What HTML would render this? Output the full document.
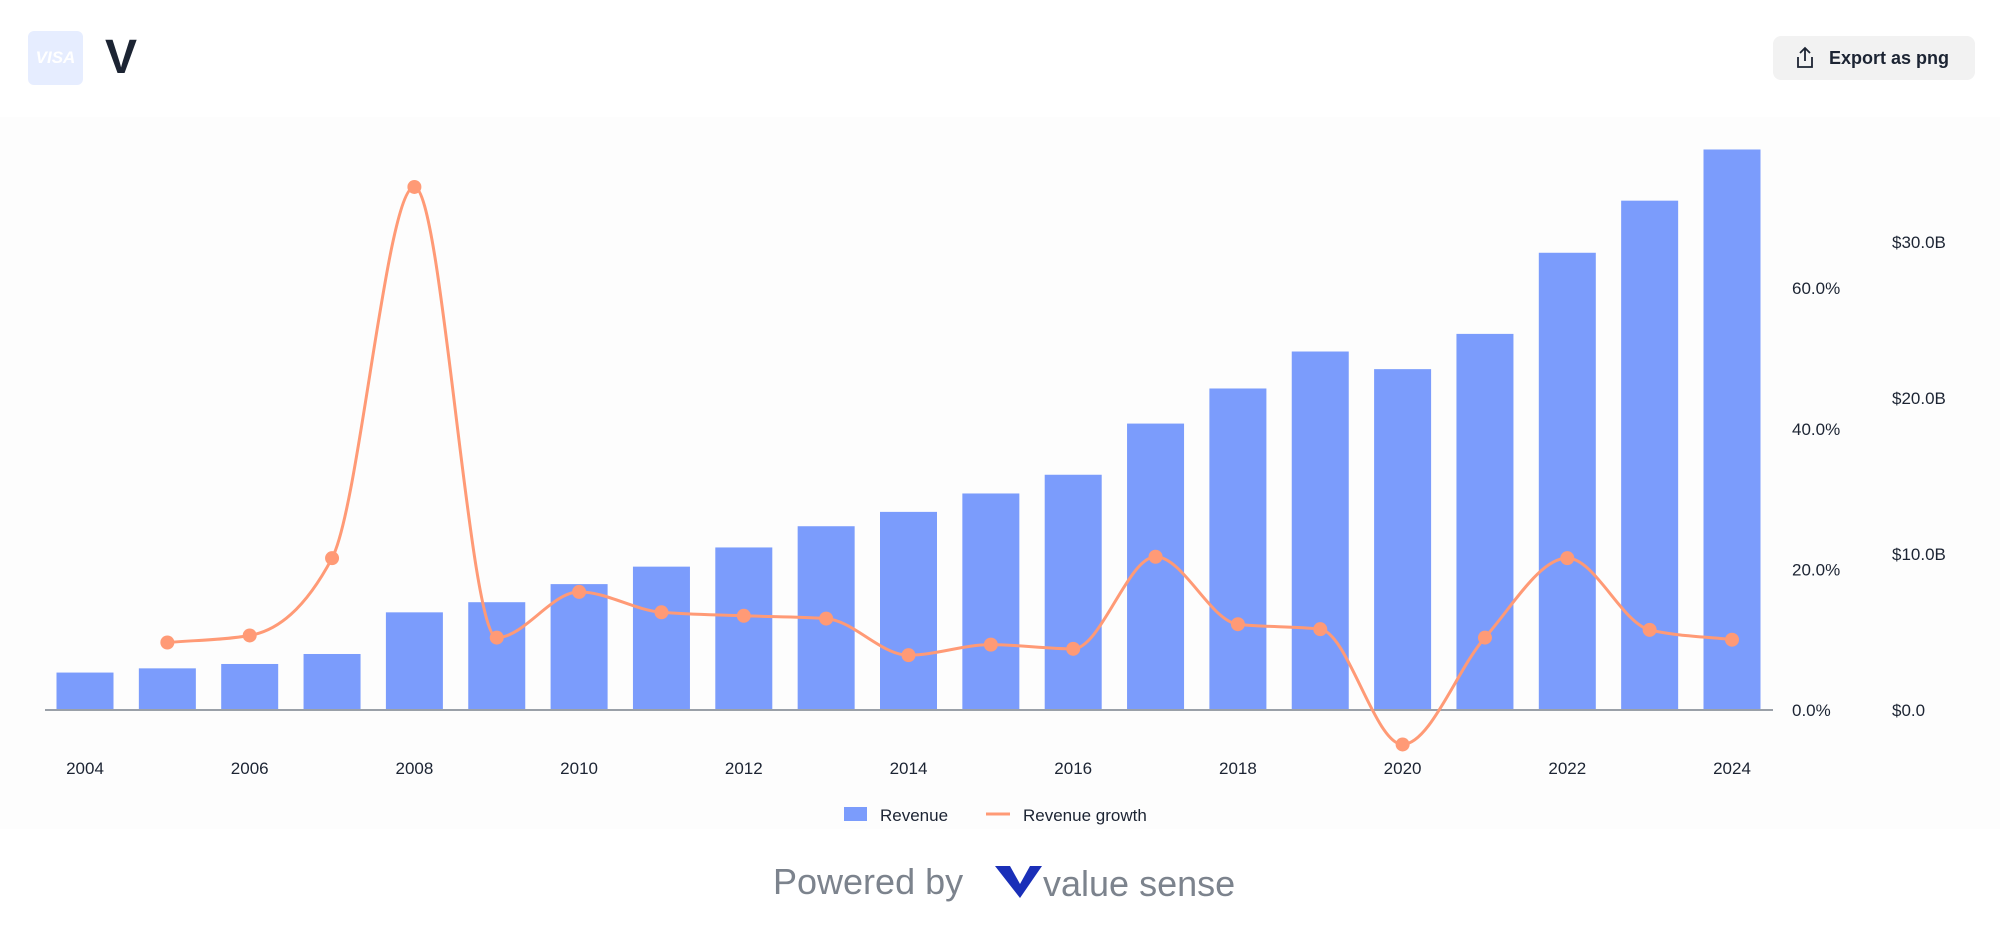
<!DOCTYPE html>
<html><head><meta charset="utf-8">
<style>
html,body{margin:0;padding:0;width:2000px;height:945px;background:#fff;overflow:hidden;font-family:"Liberation Sans",sans-serif;}
#chart-bg{position:absolute;left:0;top:117px;width:2000px;height:712px;background:#fdfdfd;}
#logo{position:absolute;left:28px;top:31px;width:55px;height:54px;background:#e6edff;border-radius:6px;color:#fff;font-weight:bold;font-style:italic;font-size:17px;line-height:54px;text-align:center;}
#ticker{position:absolute;left:105px;top:30px;font-size:48px;font-weight:bold;color:#1c2433;}
#export{position:absolute;left:1773px;top:36px;width:202px;height:44px;background:#f2f2f2;border-radius:8px;font-size:18px;font-weight:bold;color:#1c2433;line-height:44px;}
svg{position:absolute;left:0;top:0;}
</style></head><body>
<div id="chart-bg"></div>
<div id="logo">VISA</div>
<div id="ticker">V</div>
<div id="export">
<svg width="22" height="24" style="left:21px;top:10px" viewBox="0 0 22 24"><path d="M11 2 V15 M6 7 L11 2 L16 7 M4 11 V21 H18 V11" fill="none" stroke="#1c2433" stroke-width="1.8"/></svg>
<span style="position:absolute;left:56px">Export as png</span></div>
<svg id="chart" width="2000" height="945"></svg>
<script>
const years=[2004,2005,2006,2007,2008,2009,2010,2011,2012,2013,2014,2015,2016,2017,2018,2019,2020,2021,2022,2023,2024];
const revenue=[2.40,2.67,2.95,3.59,6.26,6.91,8.07,9.19,10.42,11.78,12.70,13.88,15.08,18.36,20.61,22.98,21.85,24.11,29.31,32.65,35.93];
const growth=[null,9.6,10.6,21.6,74.4,10.3,16.8,13.9,13.4,13.0,7.8,9.3,8.7,21.8,12.2,11.5,-4.9,10.3,21.6,11.4,10.0];
const revTicks=[0,10,20,30];
const revTickLabels=["$0.0","$10.0B","$20.0B","$30.0B"];
const pctTicks=[0,20,40,60];
const pctTickLabels=["0.0%","20.0%","40.0%","60.0%"];
const xTickYears=[2004,2006,2008,2010,2012,2014,2016,2018,2020,2022,2024];

const NS="http://www.w3.org/2000/svg";
const svg=document.getElementById('chart');
const base=710;
const xPos=i=>85+i*82.35;
const yRev=v=>base-v*15.6;
const yPct=v=>base-v*7.03;
function mk(tag,attrs,parent){const e=document.createElementNS(NS,tag);for(const k in attrs)e.setAttribute(k,attrs[k]);(parent||svg).appendChild(e);return e;}

revenue.forEach((v,i)=>{
  const r=mk('rect',{x:xPos(i)-28.5,y:yRev(v),width:57,height:base-yRev(v),fill:'#7b9cfc'});
  
  
});
const ax=mk('line',{x1:45,x2:1773,y1:base,y2:base,stroke:'#9aa0a8','stroke-width':2});



xTickYears.forEach(y=>{
  const i=years.indexOf(y);
  const t=mk('text',{x:xPos(i),y:774,'text-anchor':'middle','font-size':17,fill:'#1c2433'});
  t.textContent=y;
  
  
});
pctTicks.forEach((v,i)=>{
  const t=mk('text',{x:1792,y:yPct(v)+6,'font-size':17,fill:'#1c2433'});
  t.textContent=pctTickLabels[i];
  
  
});
revTicks.forEach((v,i)=>{
  const t=mk('text',{x:1892,y:yRev(v)+6,'font-size':17,fill:'#1c2433'});
  t.textContent=revTickLabels[i];
  
  
});

// monotone-x cubic (d3 style)
const pts=[];
growth.forEach((g,i)=>{if(g!==null)pts.push([xPos(i),yPct(g)]);});
const n=pts.length;
const sl=[],m=[];
for(let i=0;i<n-1;i++)sl.push((pts[i+1][1]-pts[i][1])/(pts[i+1][0]-pts[i][0]));
for(let i=0;i<n;i++){
  if(i===0||i===n-1){m.push(i===0?sl[0]:sl[n-2]);continue;}
  const s0=sl[i-1],s1=sl[i];
  if(s0*s1<=0){m.push(0);continue;}
  const h0=pts[i][0]-pts[i-1][0],h1=pts[i+1][0]-pts[i][0];
  const p=(s0*h1+s1*h0)/(h0+h1);
  m.push((Math.sign(s0)+Math.sign(s1))*Math.min(Math.abs(s0),Math.abs(s1),0.5*Math.abs(p)));
}
let d='M'+pts[0][0]+','+pts[0][1];
for(let i=0;i<n-1;i++){
  const h=(pts[i+1][0]-pts[i][0])/3;
  d+=` C${pts[i][0]+h},${pts[i][1]+m[i]*h} ${pts[i+1][0]-h},${pts[i+1][1]-m[i+1]*h} ${pts[i+1][0]},${pts[i+1][1]}`;
}
const line=mk('path',{d:d,fill:'none',stroke:'#ff9a76','stroke-width':3});


pts.forEach(p=>{
  const c=mk('circle',{cx:p[0],cy:p[1],r:7,fill:'#ff9a76'});
  
  
});

const lg=mk('g',{});


const l1=mk('rect',{x:844,y:807,width:23,height:14,fill:'#7b9cfc'},lg);


const t1=mk('text',{x:880,y:821,'font-size':17,fill:'#1c2433'},lg);t1.textContent='Revenue';


const l2=mk('line',{x1:986,x2:1010,y1:814,y2:814,stroke:'#ff9a76','stroke-width':3},lg);


const t2=mk('text',{x:1023,y:821,'font-size':17,fill:'#1c2433'},lg);t2.textContent='Revenue growth';



const pb=mk('text',{x:773,y:894,'font-size':36,fill:'#7c838d'});pb.textContent='Powered by';


const vl=mk('path',{d:'M995,866 L1010,866 L1020,884 L1030,866 L1042,866 L1020,898 Z',fill:'#1a2fb8'});


const vs=mk('text',{x:1043,y:896,'font-size':36,fill:'#7c838d'});vs.textContent='value sense';


</script>
</body></html>
